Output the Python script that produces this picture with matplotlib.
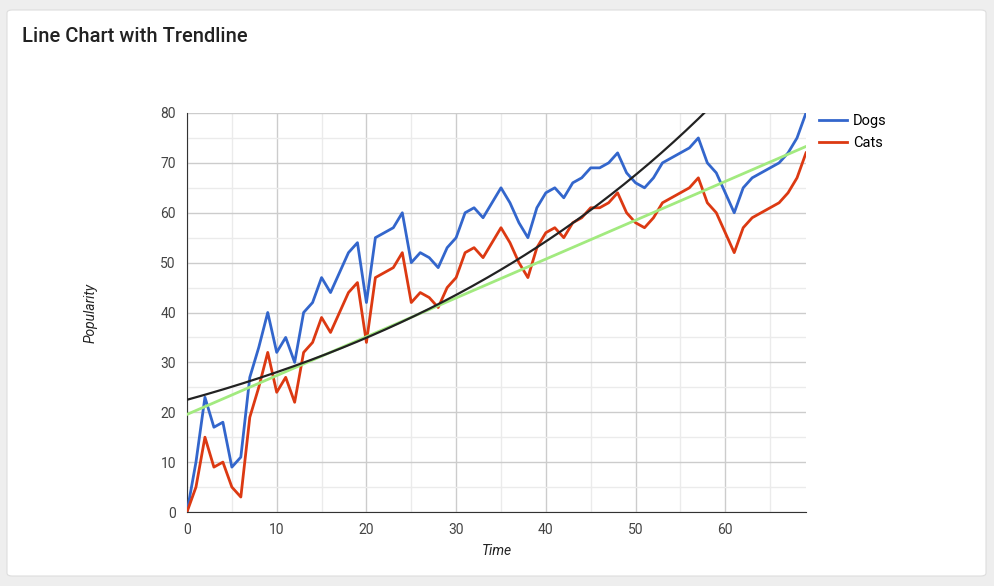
import numpy as np
import matplotlib
matplotlib.use('Agg')
import matplotlib.pyplot as plt
from matplotlib.patches import FancyBboxPatch

## Data
time = list(range(70))
dogs = [0, 10, 23, 17, 18, 9, 11, 27, 33, 40, 32, 35, 30, 40, 42, 47, 44, 48, 52, 54,
        42, 55, 56, 57, 60, 50, 52, 51, 49, 53, 55, 60, 61, 59, 62, 65, 62, 58, 55, 61,
        64, 65, 63, 66, 67, 69, 69, 70, 72, 68, 66, 65, 67, 70, 71, 72, 73, 75, 70, 68,
        64, 60, 65, 67, 68, 69, 70, 72, 75, 80]
cats = [0, 5, 15, 9, 10, 5, 3, 19, 25, 32, 24, 27, 22, 32, 34, 39, 36, 40, 44, 46,
        34, 47, 48, 49, 52, 42, 44, 43, 41, 45, 47, 52, 53, 51, 54, 57, 54, 50, 47, 53,
        56, 57, 55, 58, 59, 61, 61, 62, 64, 60, 58, 57, 59, 62, 63, 64, 65, 67, 62, 60,
        56, 52, 57, 59, 60, 61, 62, 64, 67, 72]
y_ticks = [0, 10, 20, 30, 40, 50, 60, 70, 80]
x_ticks = [0, 10, 20, 30, 40, 50, 60]

# exponential trendline for dogs: y = a * exp(b * x)
dogs_trend_a = 22.5
dogs_trend_b = 0.0220

plt.rcParams['font.family'] = ['Roboto', 'DejaVu Sans']

x = np.array(time, dtype=float)
c = np.array(cats, dtype=float)

xs = np.linspace(0, 69, 300)
dogs_trend = dogs_trend_a * np.exp(dogs_trend_b * xs)
m, k = np.polyfit(x, c, 1)  # linear trendline for cats
cats_trend = m * xs + k

fig = plt.figure(figsize=(9.95, 5.86), dpi=100)
fig.patch.set_facecolor('#eeeeee')
card = FancyBboxPatch((7 / 995, 10 / 586), 979 / 995, 566 / 586,
                      boxstyle='round,pad=0,rounding_size=0.005',
                      transform=fig.transFigure, facecolor='white',
                      edgecolor='#dddddd', linewidth=0.8, zorder=-5)
fig.patches.append(card)
fig.text(22 / 995, 1 - 37 / 586, 'Line Chart with Trendline', fontsize=14.5,
         fontweight='medium', color='#222222', va='center', ha='left')

ax = fig.add_axes([187 / 995, 1 - 512 / 586, 619 / 995, 399 / 586])
ax.set_facecolor('white')
ax.set_xlim(0, 69)
ax.set_ylim(0, 80)

ax.set_xticks(x_ticks)
ax.set_xticks(np.arange(5, 69, 10), minor=True)
ax.set_yticks(y_ticks)
ax.set_yticks(np.arange(5, 80, 10), minor=True)
ax.grid(which='major', color='#cccccc', linewidth=1)
ax.grid(which='minor', color='#ebebeb', linewidth=1)
ax.set_axisbelow(True)
ax.tick_params(which='both', length=0, labelsize=10, colors='#444444', pad=8)

for s in ['top', 'right']:
    ax.spines[s].set_visible(False)
ax.spines['left'].set_color('#333333')
ax.spines['bottom'].set_color('#333333')

ax.plot(x, dogs, color='#3366cc', linewidth=2, label='Dogs', zorder=3)
ax.plot(x, cats, color='#dc3912', linewidth=2, label='Cats', zorder=3)
ax.plot(xs, cats_trend, color='#a2ea7f', linewidth=2, zorder=4)
ax.plot(xs, dogs_trend, color='#222222', linewidth=1.6, zorder=4)

ax.set_xlabel('Time', fontstyle='italic', fontsize=10, color='#222222', labelpad=5)
ax.set_ylabel('Popularity', fontstyle='italic', fontsize=10, color='#222222', labelpad=45)

ax.legend(loc='upper left', bbox_to_anchor=(1.0, 1.03), frameon=False,
          fontsize=10.5, handlelength=1.9, labelspacing=0.55, handletextpad=0.4)

fig.savefig('out.png', dpi=100, facecolor=fig.get_facecolor())
